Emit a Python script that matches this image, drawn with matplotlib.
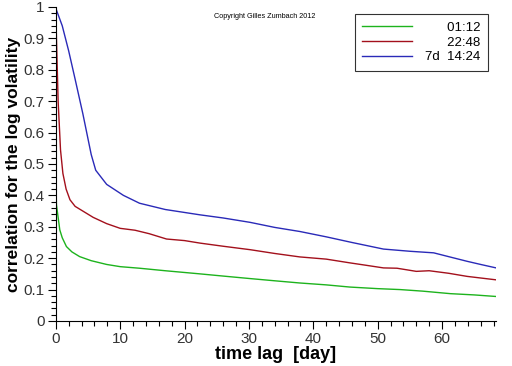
import numpy as np
import matplotlib.pyplot as plt
from matplotlib.ticker import MultipleLocator

plt.rcParams['font.family'] = ['Liberation Sans', 'DejaVu Sans']

# lag in days and correlation values
lag_green = [0.0, 0.0, 0.1, 0.36, 0.62, 1.0, 1.65, 2.5, 3.7, 5.5, 7.9, 10.0, 13.0, 17.0, 22.4,
             26.0, 30.2, 34.0, 37.9, 42.0, 45.7, 50.0, 53.5, 57.0, 61.3, 65.0, 68.4]
corr_green = [0.56, 0.45, 0.37, 0.33, 0.29, 0.265, 0.237, 0.22, 0.205, 0.192, 0.18, 0.173, 0.168,
              0.16, 0.15, 0.143, 0.135, 0.128, 0.121, 0.115, 0.108, 0.103, 0.1, 0.095, 0.087, 0.083, 0.078]

lag_red = [0.0, 0.1, 0.36, 0.6, 0.73, 1.1, 1.6, 2.2, 3.0, 4.2, 5.8, 7.9, 10.0, 12.3, 14.5, 17.2,
           20.0, 22.4, 26.0, 30.2, 34.0, 37.9, 42.0, 45.7, 48.0, 50.9, 53.0, 56.0, 58.0, 61.0, 63.9, 68.4]
corr_red = [1.0, 0.9, 0.7, 0.6, 0.545, 0.47, 0.42, 0.386, 0.365, 0.35, 0.33, 0.31, 0.295, 0.289,
            0.278, 0.261, 0.256, 0.248, 0.238, 0.227, 0.215, 0.204, 0.197, 0.185, 0.178, 0.169,
            0.168, 0.158, 0.16, 0.152, 0.142, 0.131]

lag_blue = [0.0, 0.1, 1.0, 2.0, 3.0, 4.2, 5.5, 6.2, 7.9, 10.5, 13.0, 17.0, 22.4, 26.0, 30.2, 34.0,
            37.9, 42.0, 46.0, 50.9, 55.0, 58.7, 61.0, 63.9, 66.0, 68.4]
corr_blue = [1.0, 0.99, 0.94, 0.86, 0.77, 0.66, 0.53, 0.48, 0.435, 0.40, 0.375, 0.355, 0.338, 0.328,
             0.314, 0.298, 0.285, 0.268, 0.25, 0.229, 0.222, 0.217, 0.205, 0.19, 0.18, 0.169]

labels = ['\u2007\u2007\u200701:12', '\u2007\u2007\u200722:48', '7d  14:24']
colors = ['#1db31d', '#a3101c', '#2a2ab8']

fig = plt.figure(figsize=(5.12, 3.66), dpi=100)
ax = fig.add_axes([0.109, 0.123, 0.86, 0.858])

ax.plot(lag_green, corr_green, color=colors[0], lw=1.0, label=labels[0])
ax.plot(lag_red, corr_red, color=colors[1], lw=1.0, label=labels[1])
ax.plot(lag_blue, corr_blue, color=colors[2], lw=1.0, label=labels[2])

ax.set_xlim(0, 68.4)
ax.set_ylim(0, 1)
ax.spines['top'].set_visible(False)
ax.spines['right'].set_visible(False)
ax.xaxis.set_major_locator(MultipleLocator(10))
ax.xaxis.set_minor_locator(MultipleLocator(2))
ax.yaxis.set_minor_locator(MultipleLocator(0.02))
ax.set_yticks(np.arange(0, 1.01, 0.1))
ax.set_yticklabels(['0', '0.1', '0.2', '0.3', '0.4', '0.5', '0.6', '0.7', '0.8', '0.9', '1'])
ax.tick_params(which='both', direction='out', labelsize=11, length=6, width=0.8, pad=2)
ax.tick_params(which='minor', length=3.5)
for t in ax.get_xticklabels() + ax.get_yticklabels():
    t.set_color('#333333')

ax.set_xlabel('time lag  [day]', fontsize=13, fontweight='bold', labelpad=0)
ax.set_ylabel('correlation for the log volatility', fontsize=12.5, fontweight='bold', labelpad=2)

fig.text(0.517, 0.95, 'Copyright Gilles Zumbach 2012', fontsize=5.2, ha='center')

leg = ax.legend(loc='upper right', bbox_to_anchor=(0.982, 0.977), fontsize=9.5, handlelength=3.8,
                frameon=True, fancybox=False, borderpad=0.55, labelspacing=0.2, handletextpad=1.0,
                borderaxespad=0)
leg.get_frame().set_edgecolor('black')
leg.get_frame().set_linewidth(0.8)

fig.savefig('out.png', dpi=100)
